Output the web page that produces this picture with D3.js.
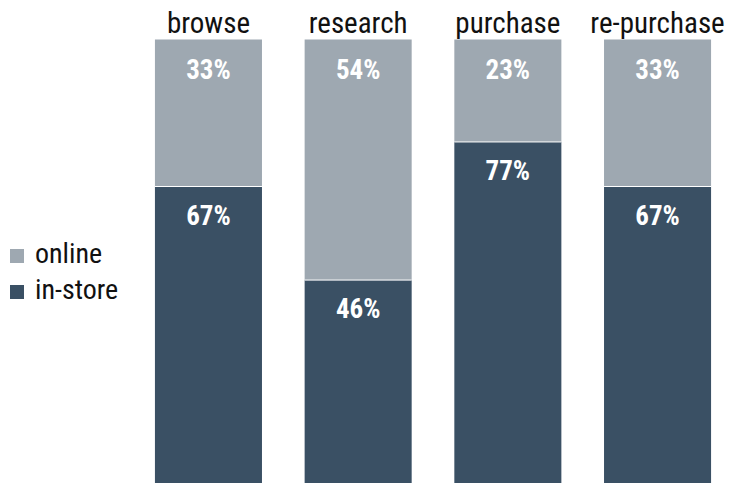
<!DOCTYPE html>
<html>
<head>
<meta charset="utf-8">
<script src="https://cdn.jsdelivr.net/npm/d3@7"></script>
<style>
  body { margin: 0; background: #fff; }
  svg { display: block; }
  text { font-family: "Roboto Condensed", "Liberation Sans Narrow", "DejaVu Sans Condensed", sans-serif; }
</style>
</head>
<body>
<div id="chart"></div>
<script>
var stages = ["browse", "research", "purchase", "re-purchase"];
var online = [33, 54, 23, 33];
var inStore = [67, 46, 77, 67];
var seriesNames = ["online", "in-store"];
var colors = ["#9ea8b1", "#3a5064"];

var width = 734, height = 483;

var svg = d3.select("#chart").append("svg")
    .attr("width", width)
    .attr("height", height);

var x = d3.scaleBand()
    .domain(stages)
    .range([133.6, 732.4])
    .paddingInner(0.285)
    .paddingOuter(0.1425);

var y = d3.scaleLinear()
    .domain([0, 100])
    .range([39.5, 485]);

var data = stages.map(function (s, i) {
    return { stage: s, online: online[i], instore: inStore[i] };
});

var g = svg.selectAll("g.bar")
    .data(data)
    .enter().append("g")
    .attr("class", "bar");

// online segment (top)
g.append("rect")
    .attr("x", function (d) { return x(d.stage); })
    .attr("y", y(0))
    .attr("width", x.bandwidth())
    .attr("height", function (d) { return y(d.online) - y(0); })
    .attr("fill", colors[0]);

// in-store segment (bottom)
g.append("rect")
    .attr("x", function (d) { return x(d.stage); })
    .attr("y", function (d) { return y(d.online); })
    .attr("width", x.bandwidth())
    .attr("height", function (d) { return y(100) - y(d.online); })
    .attr("fill", colors[1]);

// thin white divider
g.append("line")
    .attr("x1", function (d) { return x(d.stage); })
    .attr("x2", function (d) { return x(d.stage) + x.bandwidth(); })
    .attr("y1", function (d) { return y(d.online); })
    .attr("y2", function (d) { return y(d.online); })
    .attr("stroke", "#fff")
    .attr("stroke-width", 1);

g.append("text")
    .attr("x", function (d) { return x(d.stage) + x.bandwidth() / 2; })
    .attr("y", y(0) + 39)
    .attr("text-anchor", "middle")
    .attr("fill", "#fff")
    .style("font-size", "27px")
    .style("font-weight", "bold")
    .text(function (d) { return d.online + "%"; });

g.append("text")
    .attr("x", function (d) { return x(d.stage) + x.bandwidth() / 2; })
    .attr("y", function (d) { return y(d.online) + 38; })
    .attr("text-anchor", "middle")
    .attr("fill", "#fff")
    .style("font-size", "27px")
    .style("font-weight", "bold")
    .text(function (d) { return d.instore + "%"; });

// category titles
g.append("text")
    .attr("x", function (d) { return x(d.stage) + x.bandwidth() / 2; })
    .attr("y", 33)
    .attr("text-anchor", "middle")
    .attr("fill", "#111")
    .style("font-size", "29px")
    .text(function (d) { return d.stage; });

// legend
var legend = svg.selectAll("g.legend")
    .data(seriesNames)
    .enter().append("g")
    .attr("class", "legend")
    .attr("transform", function (d, i) { return "translate(10," + (263 + i * 36) + ")"; });

legend.append("rect")
    .attr("y", -14)
    .attr("width", 14)
    .attr("height", 14)
    .attr("fill", function (d, i) { return colors[i]; });

legend.append("text")
    .attr("x", 25)
    .attr("y", 0)
    .attr("fill", "#111")
    .style("font-size", "28px")
    .text(function (d) { return d; });
</script>
</body>
</html>
